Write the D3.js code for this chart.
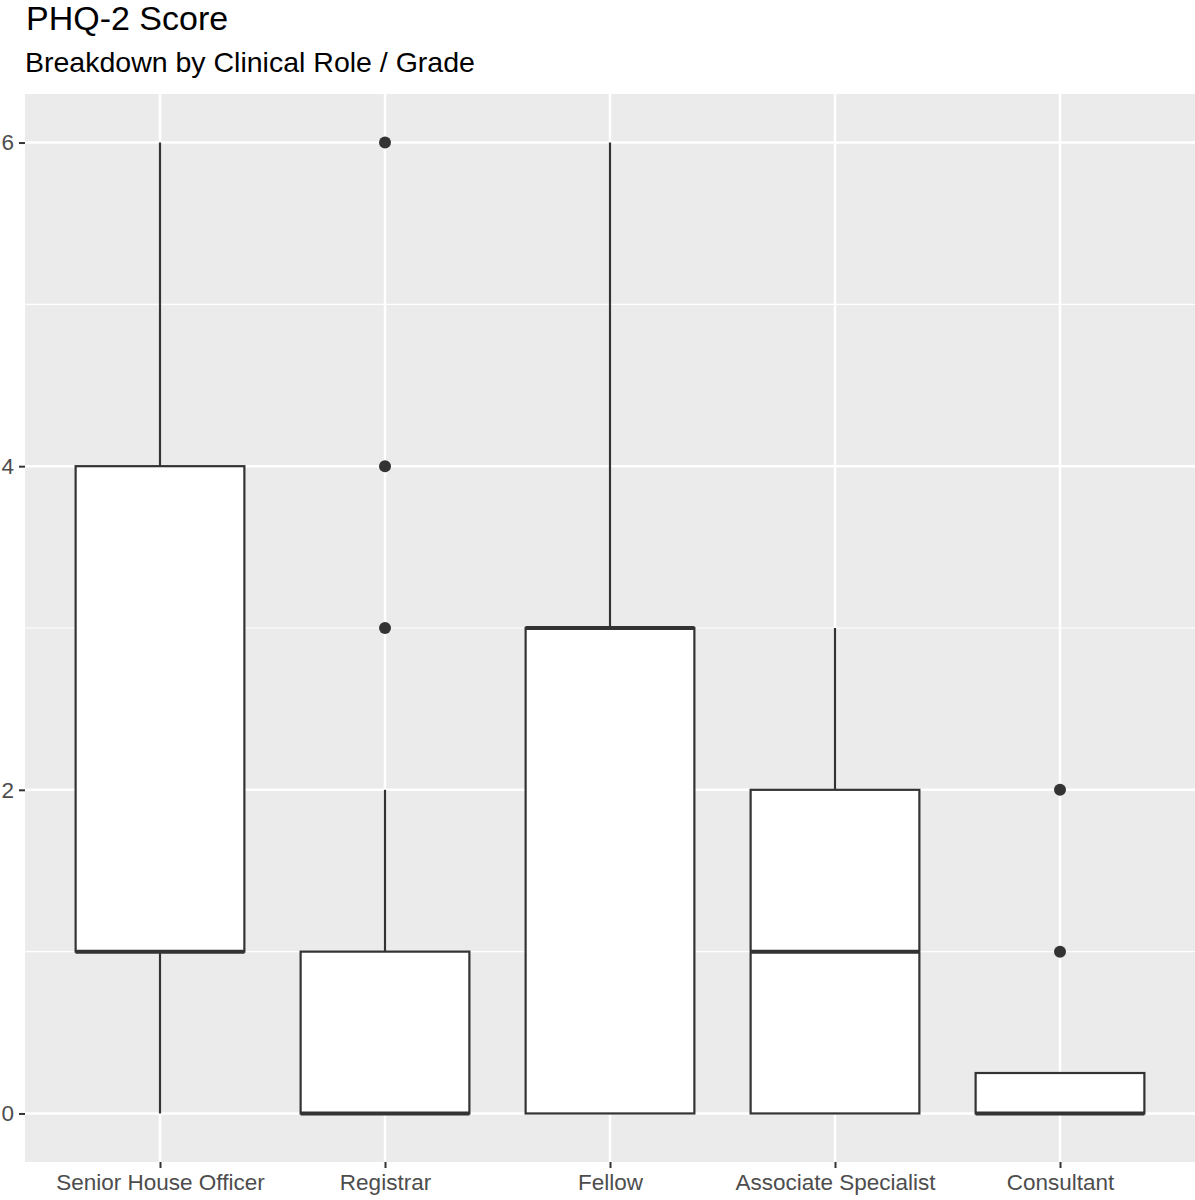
<!DOCTYPE html>
<html>
<head>
<meta charset="utf-8">
<script src="https://cdn.jsdelivr.net/npm/d3@7"></script>
<style>
  body { margin: 0; background: #fff; }
  text { font-family: "Liberation Sans", Arial, sans-serif; }
</style>
</head>
<body>
<div id="chart"></div>
<script>
// Box summaries
const categories = ['Senior House Officer', 'Registrar', 'Fellow', 'Associate Specialist', 'Consultant'];
const lowerWhisker = [0, 0, 0, 0, 0];
const q1Values = [1, 0, 0, 0, 0];
const medianValues = [1, 0, 3, 1, 0];
const q3Values = [4, 1, 3, 2, 0.25];
const upperWhisker = [6, 2, 6, 3, 0.25];
const outlierValues = [[], [3, 4, 6], [], [], [1, 2]];
const yTicks = [0, 2, 4, 6];
const yMinorTicks = [1, 3, 5];

const boxes = categories.map((c, i) => ({
  name: c, lo: lowerWhisker[i], q1: q1Values[i], med: medianValues[i],
  q3: q3Values[i], hi: upperWhisker[i], out: outlierValues[i]
}));

const W = 1195, H = 1200;
const margin = {top: 94, right: 0, bottom: 38, left: 25};
const width = W - margin.left - margin.right;
const height = H - margin.top - margin.bottom;

const svg = d3.select('#chart').append('svg')
  .attr('width', W)
  .attr('height', H);

// titles
svg.append('text')
  .attr('x', 26).attr('y', 30)
  .style('font-size', '34px')
  .style('fill', '#000')
  .text('PHQ-2 Score');

svg.append('text')
  .attr('x', 25).attr('y', 72)
  .style('font-size', '28.5px')
  .style('fill', '#000')
  .text('Breakdown by Clinical Role / Grade');

const g = svg.append('g')
  .attr('transform', `translate(${margin.left},${margin.top})`);

// scales: ggplot style expansion
const x = d3.scalePoint()
  .domain(categories)
  .range([0, width])
  .padding(0.6);
const step = x.step();

const y = d3.scaleLinear()
  .domain([-0.3, 6.3])
  .range([height, 0]);

// panel background
g.append('rect')
  .attr('width', width)
  .attr('height', height)
  .attr('fill', '#ebebeb');

// minor grid
g.selectAll('.minor')
  .data(yMinorTicks)
  .enter().append('line')
  .attr('x1', 0).attr('x2', width)
  .attr('y1', d => y(d)).attr('y2', d => y(d))
  .attr('stroke', '#fff').attr('stroke-width', 1.2);

// major grid
g.selectAll('.major-y')
  .data(yTicks)
  .enter().append('line')
  .attr('x1', 0).attr('x2', width)
  .attr('y1', d => y(d)).attr('y2', d => y(d))
  .attr('stroke', '#fff').attr('stroke-width', 2.5);

g.selectAll('.major-x')
  .data(categories)
  .enter().append('line')
  .attr('x1', d => x(d)).attr('x2', d => x(d))
  .attr('y1', 0).attr('y2', height)
  .attr('stroke', '#fff').attr('stroke-width', 2.5);

// axes
const yAxis = g.append('g')
  .call(d3.axisLeft(y).tickValues(yTicks).tickFormat(d3.format('d')).tickSize(6).tickPadding(5));
const xAxis = g.append('g')
  .attr('transform', `translate(0,${height})`)
  .call(d3.axisBottom(x).tickSize(6).tickPadding(6));

[yAxis, xAxis].forEach(a => {
  a.select('.domain').remove();
  a.selectAll('.tick line').attr('stroke', '#333').attr('stroke-width', 2);
  a.selectAll('.tick text')
    .style('font-size', '22.5px')
    .style('font-family', '"Liberation Sans", Arial, sans-serif')
    .attr('fill', '#4d4d4d');
});

// boxes
const boxW = step * 0.75;
const bx = g.selectAll('.box')
  .data(boxes)
  .enter().append('g')
  .attr('class', 'box');

bx.append('line')
  .attr('x1', d => x(d.name)).attr('x2', d => x(d.name))
  .attr('y1', d => y(d.q3)).attr('y2', d => y(d.hi))
  .attr('stroke', '#333').attr('stroke-width', 2.2);

bx.append('line')
  .attr('x1', d => x(d.name)).attr('x2', d => x(d.name))
  .attr('y1', d => y(d.q1)).attr('y2', d => y(d.lo))
  .attr('stroke', '#333').attr('stroke-width', 2.2);

bx.append('rect')
  .attr('x', d => x(d.name) - boxW / 2)
  .attr('y', d => y(d.q3))
  .attr('width', boxW)
  .attr('height', d => y(d.q1) - y(d.q3))
  .attr('fill', '#fff')
  .attr('stroke', '#333')
  .attr('stroke-width', 2.2);

bx.append('line')
  .attr('x1', d => x(d.name) - boxW / 2).attr('x2', d => x(d.name) + boxW / 2)
  .attr('y1', d => y(d.med)).attr('y2', d => y(d.med))
  .attr('stroke', '#333').attr('stroke-width', 4);

// outliers
bx.selectAll('.outlier')
  .data(d => d.out.map(v => ({name: d.name, v: v})))
  .enter().append('circle')
  .attr('cx', d => x(d.name))
  .attr('cy', d => y(d.v))
  .attr('r', 6)
  .attr('fill', '#333');
</script>
</body>
</html>
